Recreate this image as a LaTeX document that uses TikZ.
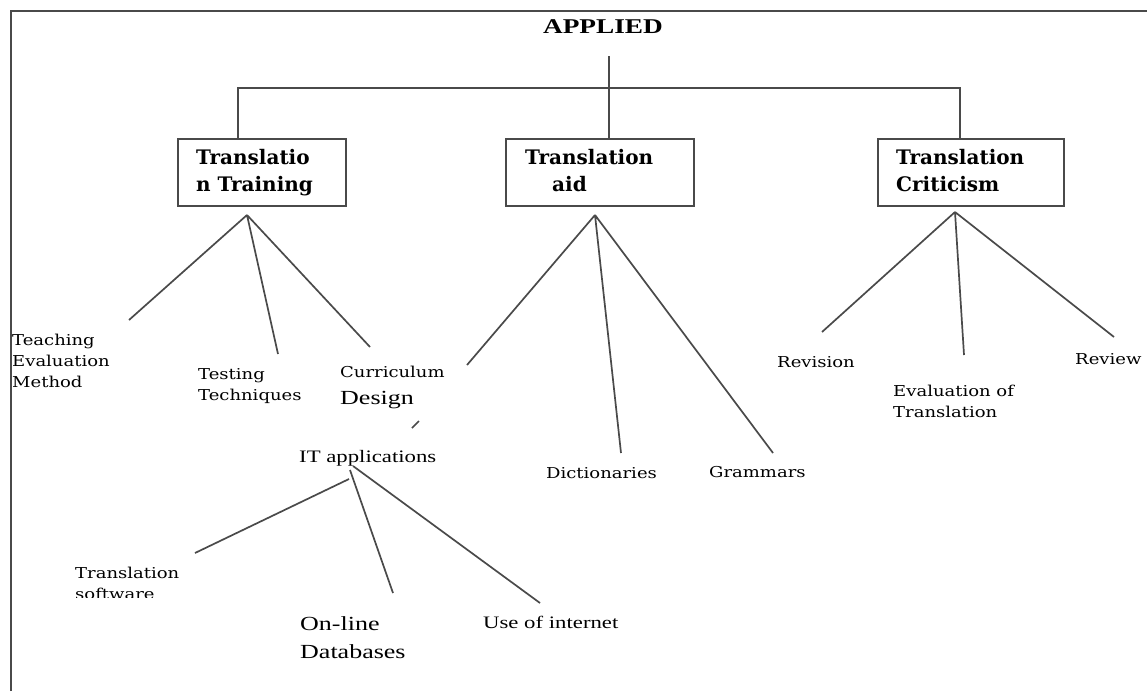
\documentclass[tikz,border=0pt]{standalone}
\usepackage{fontspec}
\setmainfont[FakeStretch=1.3]{Liberation Serif}
\newfontfamily\cs[FakeStretch=1.2]{DejaVu Serif}
\newfontfamily\hd{DejaVu Serif}
\definecolor{ln}{HTML}{4A4A4A}
\tikzset{
 conn/.style={draw=ln, line width=1.7pt},
 box/.style={draw=ln, line width=1.7pt, rectangle, anchor=north west, inner sep=0pt, minimum height=67pt},
 hdr/.style={anchor=base west, inner sep=0pt, align=left, font=\hd\bfseries\fontsize{20}{27}\selectfont},
 cl/.style={anchor=base west, inner sep=0pt, align=left, font=\cs\fontsize{15}{21}\selectfont},
 tl/.style={anchor=base west, inner sep=0pt, align=left, font=\rmfamily\fontsize{17.5}{22}\selectfont},
 bl/.style={anchor=base west, inner sep=0pt, align=left, font=\rmfamily\fontsize{20}{28}\selectfont},
}
\begin{document}
\begin{tikzpicture}[x=1pt,y=-1pt]
\useasboundingbox (0,0) rectangle (1147,691);
% frame
\draw[conn] (11,691) -- (11,11) -- (1147,11);
% root
\node[anchor=base, inner sep=0pt, font=\rmfamily\bfseries\fontsize{21}{25}\selectfont] (app) at (603,33) {APPLIED};
% boxes
\node[box, minimum width=168pt] (b1) at (177,138) {};
\node[box, minimum width=188pt] (b2) at (505,138) {};
\node[box, minimum width=186pt] (b3) at (877,138) {};
\node[hdr] (t1) at (196,191) {Translatio\\n Training};
\node[hdr] (t2) at (525,191) {Translation\\\hspace*{27pt}aid};
\node[hdr] (t3) at (896,191) {Translation\\Criticism};
% top connectors
\coordinate (top) at (609,56);
\coordinate (hl) at (238,88);
\coordinate (hr) at (960,88);
\draw[conn] (top) -- (top |- b2.north);
\draw[conn] (hl |- b1.north) -- (hl) -- (hr) -- (hr |- b3.north);
% labels
\node[cl] (teach) at (12,387) {Teaching\\Evaluation\\Method};
\node[cl] (test) at (198,400) {Testing\\Techniques};
\node[cl] (curr) at (340,404) {Curriculum\\[6pt]{\rmfamily\fontsize{20}{24}\selectfont Design}};
\node[cl] (dict) at (546,478) {Dictionaries};
\node[cl] (gram) at (709,477) {Grammars};
\node[cl] (rev) at (777,367) {Revision};
\node[cl] (evt) at (893,417) {Evaluation of\\Translation};
\node[cl] (revw) at (1075,364) {Review};
\node[tl] (it) at (299,462) {IT applications};
\begin{scope}
\clip (60,555) rectangle (210,597);
\node[cl] (tsw) at (75,599) {Translation\\software};
\end{scope}
\node[bl] (odb) at (300,658) {On-line\\Databases};
\node[tl] (uoi) at (483,628) {Use of internet};
% apex and end coordinates
\coordinate (a1) at (247,215);
\coordinate (e11) at (129,320);
\coordinate (e12) at (278,354);
\coordinate (e13) at (370,347);
\coordinate (a2) at (595,215);
\coordinate (e21) at (467,365);
\coordinate (e22) at (621,453);
\coordinate (e23) at (773,453);
\coordinate (a3) at (955,212);
\coordinate (e31) at (822,332);
\coordinate (e32) at (964,355);
\coordinate (e33) at (1114,337);
\coordinate (a41) at (349,479);
\coordinate (a42) at (350,470);
\coordinate (a43) at (353,466);
\coordinate (e41) at (195,553);
\coordinate (e42) at (393,593);
\coordinate (e43) at (540,603);
\coordinate (s1) at (412,428);
\coordinate (s2) at (419,421);
\draw[conn] (a1) -- (e11) (a1) -- (e12) (a1) -- (e13);
\draw[conn] (a2) -- (e21) (a2) -- (e22) (a2) -- (e23);
\draw[conn] (a3) -- (e31) (a3) -- (e32) (a3) -- (e33);
\draw[conn] (a41) -- (e41) (a42) -- (e42) (a43) -- (e43);
\draw[conn] (s1) -- (s2);
\end{tikzpicture}
\end{document}
